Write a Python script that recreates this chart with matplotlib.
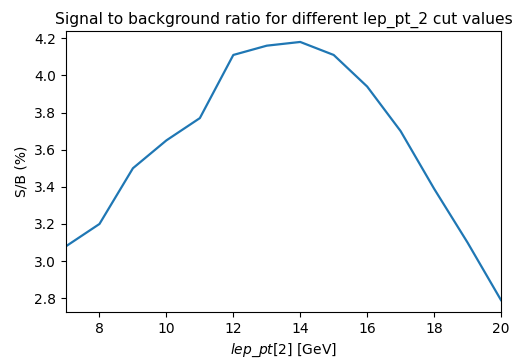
import matplotlib
matplotlib.use("Agg")
import matplotlib.pyplot as plt

cut_values = [7, 8, 9, 10, 11, 12, 13, 14, 15, 16, 17, 18, 19, 20]
sb_ratio = [3.08, 3.20, 3.50, 3.65, 3.77, 4.11, 4.16, 4.18, 4.11, 3.94, 3.70, 3.39, 3.10, 2.79]

fig = plt.figure(figsize=(5.21, 3.60), dpi=100)
ax = fig.add_axes([66 / 521, 48 / 360, 435 / 521, 281 / 360])
ax.plot(cut_values, sb_ratio, color='#1f77b4', lw=1.6)
ax.set_xlim(7, 20)
ax.set_ylim(2.726, 4.239)
ax.set_title('Signal to background ratio for different lep_pt_2 cut values', fontsize=11.2, pad=5)
ax.set_xlabel('$lep\\_pt$[2] [GeV]', fontsize=10)
ax.set_ylabel('S/B (%)', fontsize=10)
ax.tick_params(labelsize=10)

fig.savefig('out.png', dpi=100)
